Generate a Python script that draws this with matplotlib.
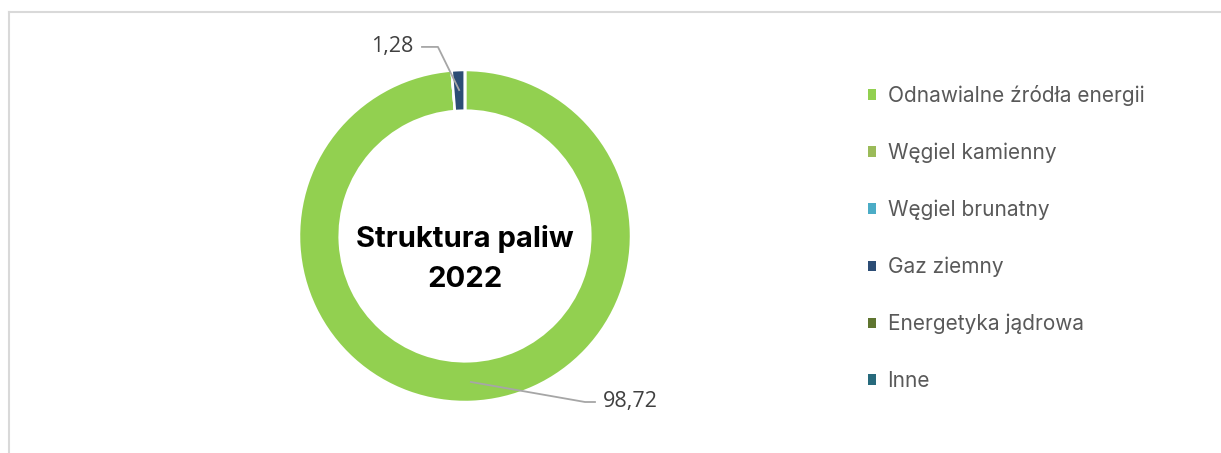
import matplotlib
matplotlib.use("Agg")
import matplotlib.pyplot as plt
from matplotlib.lines import Line2D
import numpy as np

categories = ["Odnawialne źródła energii", "Węgiel kamienny", "Węgiel brunatny",
              "Gaz ziemny", "Energetyka jądrowa", "Inne"]
values = [98.72, 0, 0, 1.28, 0, 0]
value_labels = ["98,72", "", "", "1,28", "", ""]
colors = ["#92D050", "#9BBB59", "#4BACC6", "#2C4D75", "#5F7530", "#276A7C"]
center_title = "Struktura paliw\n2022"

W, H = 1221, 453
fig = plt.figure(figsize=(W / 100, H / 100), dpi=100)
fig.patch.set_facecolor("white")

# frame (top + left edges)
fig.add_artist(Line2D([9 / W, 1.0], [1 - 12 / H, 1 - 12 / H], color="#D9D9D9", lw=1.5))
fig.add_artist(Line2D([9 / W, 9 / W], [1 - 12 / H, 0], color="#D9D9D9", lw=1.5))

cx, cy, R = 465, 236, 166
half = 175
ax = fig.add_axes([(cx - half) / W, (H - cy - half) / H, 2 * half / W, 2 * half / H])
lim = half / R
ax.set_aspect("equal")
ax.axis("off")

wedges, _ = ax.pie(values, colors=colors, startangle=90, counterclock=False,
                   radius=1.0, wedgeprops=dict(width=0.245, edgecolor="white", linewidth=1.8))
ax.set_xlim(-lim, lim)
ax.set_ylim(-lim, lim)

lab_font = dict(fontsize=15.5, color="#404040", family=["Open Sans", "DejaVu Sans"])
for w, lab in zip(wedges, value_labels):
    if not lab:
        continue
    ang = np.deg2rad((w.theta1 + w.theta2) / 2)
    px, py = 0.88 * np.cos(ang), 0.88 * np.sin(ang)
    if py > 0:
        ex, ey = -0.163, 1.139
        hx = -0.259
        ax.plot([px, ex, hx], [py, ey, ey], color="#A6A6A6", lw=1.3, clip_on=False)
        ax.text(-0.31, ey, lab, ha="right", va="center", clip_on=False, **lab_font)
    else:
        ex, ey = 0.723, -1.0
        hx = 0.783
        ax.plot([px, ex, hx], [py, ey, ey], color="#A6A6A6", lw=1.3, clip_on=False)
        ax.text(0.83, ey, lab, ha="left", va="center", clip_on=False, **lab_font)

ax.text(0, -0.14, center_title, ha="center", va="center", fontsize=21, fontweight="bold",
        color="black", linespacing=1.6, family=["Inter", "DejaVu Sans"])

leg = fig.legend(wedges, categories, loc="upper left", bbox_to_anchor=(849 / W, 1 - 66 / H),
                 frameon=False, handlelength=0.4, handleheight=0.4, handletextpad=0.55,
                 labelspacing=1.76, prop={"family": ["Inter", "DejaVu Sans"], "size": 15})
for t in leg.get_texts():
    t.set_color("#595959")
for h in leg.legend_handles:
    h.set_edgecolor("none")

fig.savefig("out.png", dpi=100, facecolor="white")
